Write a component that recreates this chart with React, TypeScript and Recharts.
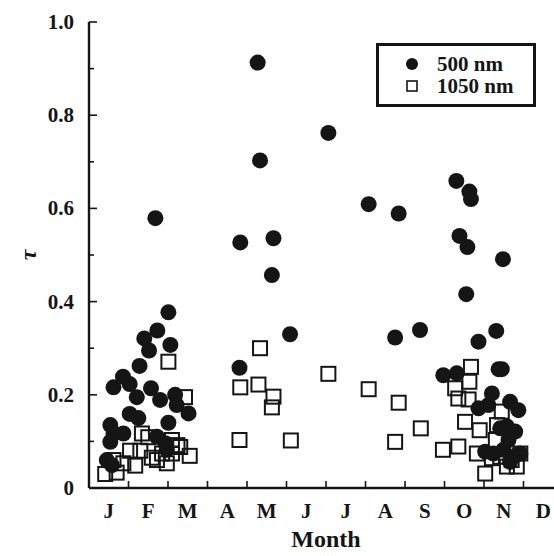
import { ScatterChart, Scatter, XAxis, YAxis, Legend } from 'recharts'

const MONTHS = ['J', 'F', 'M', 'A', 'M', 'J', 'J', 'A', 'S', 'O', 'N', 'D']
const MONTH_TICKS = [0, 1, 2, 3, 4, 5, 6, 7, 8, 9, 10, 11, 12]
const TAU_TICKS = [0, 0.1, 0.2, 0.3, 0.4, 0.5, 0.6, 0.7, 0.8, 0.9, 1.0]
const TAU_LABELS: Record<string, string> = { '0': '0', '0.2': '0.2', '0.4': '0.4', '0.6': '0.6', '0.8': '0.8', '1': '1.0' }
const SERIES_ORDER = ['500 nm', '1050 nm']

// 500 nm, month position (0 = start of Jan) and optical depth
const month500 = [
  0.45, 0.58, 0.54, 0.54, 0.62, 0.62, 0.86, 0.87, 1.03, 1.03, 1.21, 1.25, 1.28, 1.4, 1.52, 1.57, 1.73, 1.72, 1.8, 1.93,
  1.97, 2.01, 2.01, 2.06, 2.18, 2.22, 2.52, 1.68,
  3.81, 3.83, 4.27, 4.33, 4.63, 4.67, 5.09, 6.06, 7.08, 7.75, 7.84, 8.38,
  8.97, 9.3, 9.31, 9.38, 9.55, 9.58, 9.63, 9.67, 9.86, 9.86, 10.03, 10.11, 10.2, 10.31, 10.37, 10.45, 10.41, 10.48,
  10.49, 10.62, 10.66, 10.66, 10.79, 10.83, 10.87, 10.92, 10.58, 10.24,
]
const tau500 = [
  0.06, 0.049, 0.099, 0.135, 0.117, 0.216, 0.239, 0.117, 0.223, 0.159, 0.195, 0.15, 0.262, 0.321, 0.295, 0.214, 0.338,
  0.11, 0.189, 0.096, 0.082, 0.377, 0.14, 0.307, 0.2, 0.178, 0.16, 0.579,
  0.258, 0.527, 0.913, 0.703, 0.457, 0.536, 0.33, 0.762, 0.609, 0.323, 0.589, 0.339,
  0.242, 0.659, 0.246, 0.541, 0.416, 0.517, 0.636, 0.62, 0.314, 0.171, 0.078, 0.178, 0.203, 0.337, 0.255, 0.255, 0.128,
  0.491, 0.082, 0.103, 0.185, 0.056, 0.121, 0.071, 0.167, 0.074, 0.132, 0.074,
]

// 1050 nm
const month1050 = [
  0.41, 0.7, 0.62, 0.87, 1.04, 1.17, 1.3, 1.34, 1.5, 1.59, 1.72, 1.85, 1.97, 2.01, 2.1, 2.24, 2.1, 2.31, 2.43, 2.55,
  3.81, 3.83, 4.29, 4.33, 4.63, 4.67, 5.11, 6.06, 7.08, 7.75, 7.84, 8.4,
  8.96, 9.27, 9.35, 9.35, 9.52, 9.61, 9.63, 9.67, 9.82, 9.89, 10.03, 10.2, 10.3, 10.33, 10.45, 10.58, 10.83, 10.92,
  10.41, 10.7,
]
const tau1050 = [
  0.03, 0.033, 0.06, 0.053, 0.08, 0.048, 0.08, 0.117, 0.109, 0.065, 0.06, 0.074, 0.053, 0.271, 0.103, 0.092, 0.074,
  0.088, 0.195, 0.069,
  0.103, 0.216, 0.222, 0.3, 0.173, 0.196, 0.102, 0.245, 0.212, 0.099, 0.183, 0.128,
  0.082, 0.214, 0.192, 0.089, 0.142, 0.19, 0.228, 0.26, 0.074, 0.124, 0.031, 0.064, 0.103, 0.135, 0.164, 0.046, 0.046,
  0.074, 0.067, 0.06,
]

const data500 = month500.map((m, i) => ({ month: m, tau: tau500[i] }))
const data1050 = month1050.map((m, i) => ({ month: m, tau: tau1050[i] }))

const FONT = '"Liberation Serif", "Times New Roman", serif'
const INK = '#151515'
const CHART_W = 573
const CHART_H = 556
const LEFT_W = 89
const RIGHT_W = 10
const MONTH_W = (CHART_W - LEFT_W - RIGHT_W) / 12

function BottomTick({ x, y, payload }: any) {
  const i = payload.value
  return (
    <g>
      <line x1={x} x2={x} y1={y} y2={y - 7} stroke={INK} strokeWidth={1.6} />
      {i < 12 && (
        <text x={x + MONTH_W / 2} y={y + 30} textAnchor="middle" fontFamily={FONT} fontWeight="bold" fontSize={21} fill={INK}>
          {MONTHS[i]}
        </text>
      )}
    </g>
  )
}

function TopTick({ x, y }: any) {
  return <line x1={x} x2={x} y1={y} y2={y + 7} stroke={INK} strokeWidth={1.6} />
}

function LeftTick({ x, y, payload }: any) {
  const key = String(Math.round(payload.value * 10) / 10)
  const label = TAU_LABELS[key]
  return (
    <g>
      <line x1={x} x2={x + (label ? 8 : 5)} y1={y} y2={y} stroke={INK} strokeWidth={1.6} />
      {label && (
        <text x={x - 15} y={y + 7} textAnchor="end" fontFamily={FONT} fontWeight="bold" fontSize={21} fill={INK}>
          {label}
        </text>
      )}
    </g>
  )
}

function RightTick({ x, y, payload }: any) {
  const key = String(Math.round(payload.value * 10) / 10)
  return <line x1={x} x2={x - (TAU_LABELS[key] ? 8 : 5)} y1={y} y2={y} stroke={INK} strokeWidth={1.6} />
}

function Dot({ cx, cy }: any) {
  return <circle cx={cx} cy={cy} r={8} fill={INK} />
}

function Box({ cx, cy }: any) {
  return <rect x={cx - 7} y={cy - 7} width={14} height={14} fill="none" stroke={INK} strokeWidth={2} />
}

function LegendBox({ payload }: any) {
  const items = [...(payload || [])].sort((a: any, b: any) => SERIES_ORDER.indexOf(a.value) - SERIES_ORDER.indexOf(b.value))
  return (
    <div style={{ border: `3px solid ${INK}`, padding: '7px 10px 7px 26px', background: 'white', fontFamily: FONT, fontWeight: 'bold', fontSize: 21, color: INK, lineHeight: '22px' }}>
      {items.map((p: any) => (
        <div key={p.value} style={{ display: 'flex', alignItems: 'center' }}>
          <svg width={14} height={14} style={{ marginRight: 18 }}>
            {p.value === '500 nm' ? (
              <circle cx={7} cy={7} r={6} fill={INK} />
            ) : (
              <rect x={2} y={2} width={10} height={10} fill="none" stroke={INK} strokeWidth={1.6} />
            )}
          </svg>
          <span>{p.value}</span>
        </div>
      ))}
    </div>
  )
}

export default function App() {
  return (
    <div style={{ position: 'fixed', left: 0, top: 0, width: 554, height: 556, overflow: 'hidden', background: 'white' }}>
      <ScatterChart width={CHART_W} height={CHART_H} margin={{ top: 22, right: 0, bottom: 0, left: 0 }}>
        <XAxis
          dataKey="month"
          type="number"
          domain={[0, 12]}
          ticks={MONTH_TICKS}
          interval={0}
          height={68}
          tickSize={0}
          tickMargin={0}
          tickLine={false}
          axisLine={{ stroke: INK, strokeWidth: 2.4 }}
          tick={<BottomTick />}
          label={{
            content: ({ viewBox }: any) => (
              <text x={viewBox.x + viewBox.width / 2} y={547} textAnchor="middle" fontFamily={FONT} fontWeight="bold" fontSize={24} fill={INK}>
                Month
              </text>
            ),
          }}
        />
        <XAxis
          xAxisId="top"
          orientation="top"
          type="number"
          domain={[0, 12]}
          ticks={MONTH_TICKS}
          interval={0}
          height={0}
          tickSize={0}
          tickMargin={0}
          tickLine={false}
          axisLine={{ stroke: INK, strokeWidth: 2.4 }}
          tick={<TopTick />}
        />
        <YAxis
          dataKey="tau"
          type="number"
          domain={[0, 1]}
          ticks={TAU_TICKS}
          interval={0}
          width={LEFT_W}
          tickSize={0}
          tickMargin={0}
          tickLine={false}
          axisLine={{ stroke: INK, strokeWidth: 2.4 }}
          tick={<LeftTick />}
          label={{
            content: ({ viewBox }: any) => (
              <text
                x={36}
                y={viewBox.y + viewBox.height / 2}
                textAnchor="middle"
                transform={`rotate(-90 36 ${viewBox.y + viewBox.height / 2})`}
                fontFamily={FONT}
                fontWeight="bold"
                fontStyle="italic"
                fontSize={24}
                fill={INK}
              >
                τ
              </text>
            ),
          }}
        />
        <YAxis
          yAxisId="right"
          orientation="right"
          type="number"
          domain={[0, 1]}
          ticks={TAU_TICKS}
          interval={0}
          width={RIGHT_W}
          tickSize={0}
          tickMargin={0}
          tickLine={false}
          axisLine={{ stroke: INK, strokeWidth: 2.4 }}
          tick={<RightTick />}
        />
        <Legend
          layout="horizontal"
          verticalAlign="middle"
          align="center"
          content={<LegendBox />}
          wrapperStyle={{ left: 376, top: 43, width: 160, height: 64 }}
        />
        <Scatter name="500 nm" data={data500} shape={<Dot />} fill={INK} isAnimationActive={false} />
        <Scatter name="1050 nm" data={data1050} shape={<Box />} fill="none" stroke={INK} isAnimationActive={false} />
      </ScatterChart>
    </div>
  )
}
